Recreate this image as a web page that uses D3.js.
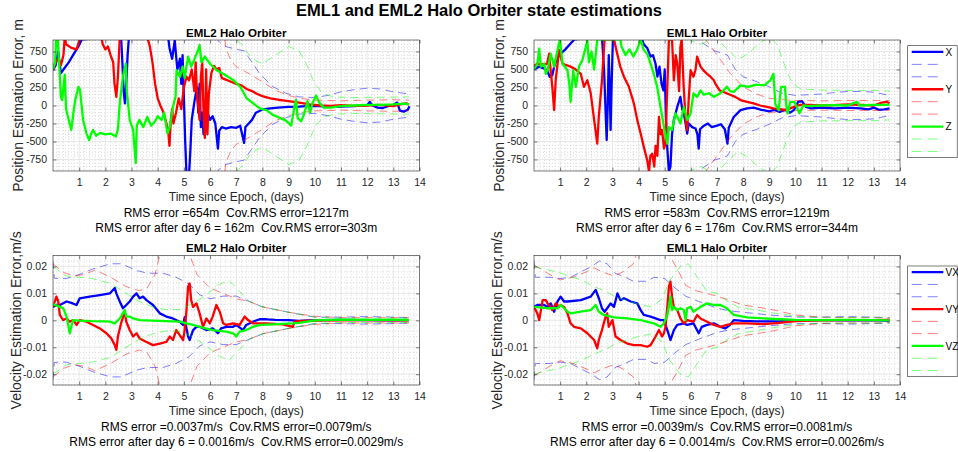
<!DOCTYPE html>
<html><head><meta charset="utf-8">
<script src="https://cdn.jsdelivr.net/npm/d3@7/dist/d3.min.js"></script>
<style>html,body{margin:0;padding:0;background:#fff;}svg{display:block;}</style>
</head><body>
<svg id="chart" width="958" height="452"></svg>
<script>
// ---------------- DATA ----------------
const mainTitle = "EML1 and EML2 Halo Orbiter state estimations";
const panelTitles = ["EML2 Halo Orbiter", "EML1 Halo Orbiter", "EML2 Halo Orbiter", "EML1 Halo Orbiter"];
const xTicks = [1,2,3,4,5,6,7,8,9,10,11,12,13,14];
const posTicks = [-750,-500,-250,0,250,500,750];
const velTicks = [-0.02,-0.01,0,0.01,0.02];
const posLegend = ["X","Y","Z"];
const velLegend = ["VX","VY","VZ"];
const xLabel = "Time since Epoch, (days)";
const posYLabel = "Position Estimation Error, m";
const velYLabel = "Velocity Estimation Error,m/s";
const rmsTexts = [
  ["RMS error =654m  Cov.RMS error=1217m", "RMS error after day 6 = 162m  Cov.RMS error=303m"],
  ["RMS error =583m  Cov.RMS error=1219m", "RMS error after day 6 = 176m  Cov.RMS error=344m"],
  ["RMS error =0.0037m/s  Cov.RMS error=0.0079m/s", "RMS error after day 6 = 0.0016m/s  Cov.RMS error=0.0029m/s"],
  ["RMS error =0.0039m/s  Cov.RMS error=0.0081m/s", "RMS error after day 6 = 0.0014m/s  Cov.RMS error=0.0026m/s"]
];

// EML2 position errors [day, m]
const eml2PosX = [[0,490],[0.1,560],[0.2,750],[0.3,450],[0.4,500],[0.6,600],[0.8,720],[1.0,840],[1.1,920],[2.6,950],[2.65,600],[2.7,200],[2.75,30],[2.8,300],[2.85,700],[2.9,950],[4.4,950],[4.45,800],[4.55,650],[4.65,900],[4.75,500],[4.85,650],[4.9,300],[4.95,700],[5.0,100],[5.05,-500],[5.1,-950],[5.2,-950],[5.25,-600],[5.3,-200],[5.4,50],[5.5,250],[5.55,-100],[5.6,300],[5.65,-300],[5.7,-100],[5.75,-400],[5.8,-150],[5.85,-350],[5.9,-100],[6.0,-200],[6.1,-150],[6.2,-250],[6.3,-600],[6.35,-350],[6.45,-300],[6.6,-320],[6.8,-300],[7.0,-310],[7.15,-280],[7.3,-520],[7.35,-300],[7.45,-260],[7.6,-200],[7.75,-100],[8.0,-55],[8.3,-40],[8.6,-30],[9.0,-20],[9.4,-15],[9.8,-5],[10.2,-10],[10.6,-20],[11.0,-15],[11.5,-10],[12.0,5],[12.1,50],[12.2,0],[12.4,-30],[12.6,-35],[12.8,-10],[13.0,10],[13.15,40],[13.25,-70],[13.4,-85],[13.55,-60],[13.62,-10]];
const eml2PosY = [[0,500],[0.1,600],[0.2,650],[0.3,560],[0.4,700],[0.45,950],[0.5,850],[0.7,800],[0.9,780],[1.0,900],[1.1,950],[1.85,950],[1.9,850],[2.0,780],[2.1,820],[2.2,700],[2.3,600],[2.35,300],[2.42,120],[2.48,400],[2.55,950],[3.6,950],[3.7,820],[3.8,600],[3.9,300],[4.0,100],[4.1,0],[4.2,-80],[4.3,-200],[4.4,-350],[4.45,-560],[4.5,-200],[4.55,-50],[4.6,-250],[4.7,-100],[4.8,100],[4.9,-50],[5.0,250],[5.1,400],[5.2,350],[5.3,500],[5.4,200],[5.45,600],[5.5,150],[5.6,-200],[5.65,400],[5.7,600],[5.75,-100],[5.8,-450],[5.85,500],[5.9,-400],[5.95,150],[6.05,450],[6.15,550],[6.25,500],[6.35,520],[6.45,380],[6.6,360],[6.8,330],[7.0,300],[7.2,280],[7.4,230],[7.6,200],[7.8,160],[8.0,130],[8.3,100],[8.6,80],[9.0,60],[9.4,40],[9.8,15],[10.2,0],[10.6,-5],[11.0,5],[11.5,-5],[12.0,0],[12.5,10],[13.0,-10],[13.3,20],[13.5,30],[13.6,10]];
const eml2PosZ = [[0,500],[0.08,600],[0.12,920],[0.18,920],[0.25,490],[0.3,120],[0.35,75],[0.45,430],[0.5,-50],[0.6,-200],[0.7,-340],[0.78,-100],[0.85,75],[0.97,260],[1.03,220],[1.15,-200],[1.28,-390],[1.38,-480],[1.45,-400],[1.53,-340],[1.65,-420],[1.8,-380],[2.0,-400],[2.2,-390],[2.4,-430],[2.48,-330],[2.55,30],[2.67,400],[2.78,580],[2.82,200],[2.93,-200],[3.06,-340],[3.16,-800],[3.2,-280],[3.3,-200],[3.45,-300],[3.6,-160],[3.75,-280],[3.9,-220],[4.0,-150],[4.15,-200],[4.25,-100],[4.37,-390],[4.46,-300],[4.58,-20],[4.68,120],[4.72,490],[4.85,400],[4.95,540],[5.03,380],[5.16,680],[5.28,540],[5.4,640],[5.54,770],[5.6,840],[5.67,600],[5.8,680],[6.0,580],[6.25,490],[6.5,440],[6.9,350],[7.15,260],[7.4,100],[7.65,30],[7.9,-40],[8.15,-65],[8.4,-130],[8.65,-170],[8.9,-210],[9.1,-280],[9.22,-20],[9.28,80],[9.35,-180],[9.48,-220],[9.6,-110],[9.72,60],[9.82,-100],[9.92,40],[10.05,140],[10.17,40],[10.35,-30],[10.6,-30],[11.0,-10],[11.5,0],[12.0,10],[12.5,10],[13.0,15],[13.4,25],[13.6,20]];
// EML2 position 3-sigma envelopes [day, m]
const eml2CovX = [[0,3000],[5.8,3000],[6.0,2000],[6.3,900],[6.6,820],[7.0,780],[7.3,760],[7.6,600],[7.9,440],[8.4,260],[8.9,170],[9.4,120],[10.0,110],[10.5,140],[11.0,190],[11.5,220],[12.0,240],[12.5,230],[13.0,190],[13.6,160]];
const eml2CovY = [[0,3000],[6.2,3000],[6.4,1500],[6.6,800],[6.8,620],[7.0,540],[7.5,440],[8.0,330],[8.5,210],[9.0,140],[9.5,95],[10.0,75],[11.0,65],[12.0,75],[13.0,80],[13.6,75]];
const eml2CovZ = [[0,3000],[6.6,3000],[6.9,950],[7.2,850],[7.6,650],[8.0,580],[8.5,700],[9.0,820],[9.4,760],[9.7,560],[10.0,300],[10.3,170],[10.7,120],[11.5,110],[12.5,115],[13.6,120]];

// EML1 position errors [day, m]
const eml1PosX = [[0,500],[0.1,520],[0.2,540],[0.35,520],[0.5,490],[0.6,400],[0.7,420],[0.77,540],[0.9,680],[1.02,720],[1.2,780],[1.4,860],[1.55,920],[2.6,950],[2.68,500],[2.75,-200],[2.78,-480],[2.82,0],[2.86,700],[2.9,200],[2.93,-340],[2.97,300],[3.02,950],[4.1,950],[4.2,850],[4.33,800],[4.46,680],[4.55,700],[4.65,580],[4.72,400],[4.8,540],[4.88,300],[4.95,210],[5.0,500],[5.05,-200],[5.1,-600],[5.16,-920],[5.22,-850],[5.28,-400],[5.35,-200],[5.48,-20],[5.6,120],[5.67,-50],[5.73,-110],[5.8,-250],[5.86,-390],[5.92,-250],[6.05,-300],[6.18,-320],[6.25,-400],[6.3,-600],[6.35,-330],[6.5,-280],[6.65,-250],[6.8,-300],[7.0,-280],[7.15,-260],[7.3,-330],[7.4,-530],[7.45,-310],[7.64,-160],[7.9,-65],[8.15,-40],[8.4,-30],[8.7,-60],[9.0,-80],[9.2,-60],[9.4,-90],[9.6,-60],[9.8,-100],[9.95,-60],[10.1,50],[10.25,60],[10.4,-20],[10.6,-40],[11.0,-30],[11.5,-40],[12.0,-30],[12.5,-40],[12.8,-55],[13.0,-30],[13.2,-60],[13.4,-55],[13.6,-40]];
const eml1PosY = [[0,550],[0.13,580],[0.3,570],[0.5,580],[0.58,720],[0.64,480],[0.7,260],[0.77,-65],[0.83,350],[0.96,770],[1.09,580],[1.4,540],[1.6,500],[1.79,440],[1.91,260],[2.04,350],[2.17,170],[2.3,-200],[2.42,-530],[2.48,-150],[2.6,350],[2.7,920],[3.06,920],[3.15,770],[3.3,540],[3.44,400],[3.63,260],[3.82,30],[3.95,-200],[4.08,-390],[4.2,-575],[4.33,-760],[4.4,-920],[4.45,-700],[4.52,-670],[4.6,-850],[4.65,-560],[4.72,-700],[4.78,-160],[4.84,-400],[4.9,-340],[4.97,-600],[5.03,-530],[5.1,260],[5.16,920],[5.28,920],[5.35,350],[5.42,700],[5.48,580],[5.55,200],[5.6,815],[5.65,920],[5.72,300],[5.8,-200],[5.86,-340],[5.92,100],[5.99,490],[6.1,400],[6.18,500],[6.24,680],[6.37,540],[6.5,480],[6.62,440],[6.75,400],[6.88,350],[6.94,300],[7.1,210],[7.3,180],[7.5,150],[7.7,120],[7.9,75],[8.15,50],[8.4,30],[8.65,0],[8.9,-20],[9.16,-40],[9.4,-50],[9.6,-60],[9.8,-40],[10.0,-10],[10.2,10],[10.5,10],[11.0,0],[11.5,5],[12.0,15],[12.5,10],[13.0,0],[13.3,40],[13.5,50],[13.6,30]];
const eml1PosZ = [[0,500],[0.13,580],[0.2,790],[0.26,540],[0.39,580],[0.45,440],[0.52,490],[0.64,720],[0.77,540],[0.9,770],[0.99,920],[1.09,580],[1.28,490],[1.35,300],[1.4,50],[1.5,490],[1.6,260],[1.72,540],[1.85,630],[1.95,770],[2.04,900],[2.1,600],[2.2,750],[2.3,500],[2.42,920],[3.3,920],[3.35,815],[3.5,700],[3.65,780],[3.8,680],[3.95,780],[4.08,920],[4.2,770],[4.33,720],[4.46,580],[4.58,440],[4.71,260],[4.84,-20],[4.97,-300],[5.1,-530],[5.16,-300],[5.28,-340],[5.41,-110],[5.54,-200],[5.6,-250],[5.73,-20],[5.86,-200],[5.99,-110],[6.1,170],[6.24,120],[6.37,210],[6.5,150],[6.7,170],[6.88,120],[7.13,170],[7.38,260],[7.5,200],[7.64,190],[7.9,280],[8.2,260],[8.5,290],[8.8,280],[9.04,350],[9.16,440],[9.23,20],[9.36,-65],[9.45,260],[9.6,260],[9.65,0],[9.7,-110],[9.8,50],[9.95,50],[10.03,0],[10.15,-110],[10.3,0],[10.5,-10],[11.0,0],[11.5,5],[12.0,0],[12.35,50],[12.45,0],[13.0,10],[13.6,10]];
// EML1 position 3-sigma envelopes [day, m]
const eml1CovX = [[0,3000],[5.9,3000],[6.1,950],[6.4,880],[6.9,760],[7.4,700],[7.7,500],[8.0,400],[8.6,320],[9.0,260],[9.5,170],[10.0,140],[10.5,150],[11.0,160],[11.5,180],[12.0,195],[12.5,195],[13.0,185],[13.6,140]];
const eml1CovY = [[0,3000],[6.3,3000],[6.6,900],[7.0,700],[7.5,450],[8.0,260],[8.5,160],[9.0,100],[9.5,80],[10.0,70],[11.0,65],[12.0,70],[13.0,70],[13.6,70]];
const eml1CovZ = [[0,3000],[5.8,3000],[6.0,900],[6.4,850],[6.9,950],[7.4,780],[7.8,640],[8.2,720],[8.6,860],[9.0,950],[9.3,850],[9.5,650],[9.7,450],[9.9,300],[10.2,230],[11.0,215],[12.0,210],[13.0,210],[13.6,200]];

// EML2 velocity errors [day, m/s]
const eml2VelX = [[0,0.005],[0.13,0.0057],[0.26,0.0057],[0.52,0.007],[0.7,0.0065],[0.9,0.0057],[1.02,0.0082],[1.4,0.0088],[1.79,0.0094],[2.17,0.01],[2.36,0.012],[2.42,0.01],[2.55,0.007],[2.67,0.0045],[2.8,0.0057],[2.93,0.007],[3.06,0.0088],[3.19,0.01],[3.31,0.0082],[3.44,0.0088],[3.57,0.0075],[3.82,0.0057],[4.08,0.0026],[4.33,0.0014],[4.58,0.0007],[4.84,-0.0005],[4.97,-0.0017],[5.03,0.0012],[5.1,-0.003],[5.16,-0.006],[5.22,-0.0073],[5.35,-0.0036],[5.48,-0.0024],[5.6,-0.0024],[5.86,-0.0036],[6.1,-0.003],[6.3,-0.0048],[6.42,-0.003],[6.62,-0.0024],[6.88,-0.0024],[7.0,-0.0017],[7.26,-0.0036],[7.38,-0.0017],[7.64,-0.0005],[7.9,0.0004],[8.15,0.0004],[8.5,0.0002],[9.0,0.0001],[9.4,-0.0002],[10,0.0001],[11,0.0002],[12,0.0001],[13,0],[13.6,0.0001]];
const eml2VelY = [[0,0.005],[0.13,0.0088],[0.2,0.007],[0.26,0.002],[0.39,0.0001],[0.52,0.0007],[0.64,-0.0005],[0.77,0.0001],[0.9,-0.0017],[1.02,0.0001],[1.28,-0.0005],[1.53,-0.0017],[1.79,-0.003],[2.04,-0.0048],[2.23,-0.0067],[2.36,-0.0092],[2.42,-0.011],[2.48,-0.006],[2.6,-0.0011],[2.74,0.0032],[2.8,-0.0005],[2.93,-0.0036],[3.06,-0.006],[3.19,-0.0048],[3.31,-0.0067],[3.57,-0.008],[3.82,-0.0092],[4.08,-0.0086],[4.33,-0.008],[4.46,-0.006],[4.58,-0.0073],[4.71,-0.0036],[4.84,-0.0055],[4.97,-0.0073],[5.03,-0.0036],[5.1,0.0038],[5.16,0.0125],[5.22,0.0137],[5.28,0.0075],[5.35,0.005],[5.48,0.0063],[5.6,0.0026],[5.73,-0.0024],[5.86,0.0007],[5.99,-0.0011],[6.1,0.0014],[6.24,0.0057],[6.37,0.0032],[6.5,-0.0011],[6.62,-0.0017],[6.88,-0.0011],[7.13,-0.0017],[7.32,0.0014],[7.45,0.0001],[7.64,-0.0011],[8.15,-0.0011],[8.78,-0.0015],[9.16,-0.0024],[9.23,-0.0005],[9.5,-0.0002],[10,-0.0001],[11,0],[12,0.0001],[13,0],[13.6,0]];
const eml2VelZ = [[0,0.006],[0.26,0.005],[0.39,0.0045],[0.52,0.0014],[0.64,-0.0048],[0.7,-0.0024],[0.77,0.0001],[1.02,-0.0001],[1.5,-0.0003],[2.0,-0.0004],[2.17,-0.0005],[2.36,-0.0011],[2.55,0.0007],[2.74,0.0038],[2.8,0.0014],[2.93,0.0014],[3.06,0.0007],[3.31,0.0001],[3.8,-0.0001],[4.3,-0.0003],[4.84,-0.0005],[5.1,-0.0011],[5.35,-0.0017],[5.6,-0.0024],[6.1,-0.0036],[6.62,-0.0042],[6.88,-0.0048],[7.0,-0.006],[7.13,-0.0042],[7.38,-0.0036],[7.64,-0.0024],[7.9,-0.0017],[8.4,-0.0015],[8.9,-0.0012],[9.16,-0.0011],[9.4,-0.0009],[10,0],[11,0.0003],[12,0.0002],[13,0.0003],[13.6,0.0002]];
const eml2CovVX = [[0,0.022],[0.05,0.0156],[0.5,0.0155],[1.0,0.017],[1.5,0.019],[2.2,0.021],[2.6,0.021],[3.2,0.0185],[3.6,0.0175],[4.2,0.0175],[4.7,0.016],[5.2,0.0135],[5.6,0.0095],[6.0,0.008],[6.5,0.009],[7.0,0.009],[7.5,0.007],[8.0,0.005],[9.0,0.003],[10,0.0012],[11,0.0012],[12,0.0014],[13,0.0012],[13.6,0.001]];
const eml2CovVY = [[0,0.021],[0.4,0.0178],[0.8,0.0165],[1.2,0.017],[1.6,0.0187],[2.2,0.016],[2.8,0.0125],[3.3,0.011],[3.6,0.012],[3.9,0.017],[4.1,0.025],[4.3,0.035],[5.0,0.035],[5.2,0.025],[5.5,0.017],[6.0,0.012],[6.5,0.01],[7.0,0.008],[7.5,0.007],[8.0,0.005],[9.0,0.003],[10,0.0015],[11,0.001],[12,0.001],[13,0.001],[13.6,0.001]];
const eml2CovVZ = [[0,0.02],[0.5,0.0165],[1.0,0.016],[1.5,0.0155],[2.2,0.0137],[2.8,0.01],[3.3,0.007],[3.8,0.005],[4.3,0.004],[4.8,0.004],[5.3,0.006],[5.8,0.009],[6.3,0.013],[6.7,0.015],[7.1,0.011],[7.5,0.007],[8.0,0.005],[9.0,0.003],[10,0.0012],[11,0.0008],[12,0.0008],[13,0.0008],[13.6,0.0008]];

// EML1 velocity errors [day, m/s]
const eml1VelX = [[0,0.005],[0.13,0.0057],[0.39,0.0057],[0.52,0.005],[0.64,0.0063],[0.77,0.0032],[0.9,0.007],[1.02,0.0088],[1.15,0.007],[1.28,0.007],[1.79,0.0075],[2.17,0.0088],[2.36,0.0113],[2.48,0.0082],[2.6,0.0045],[2.7,0.0032],[2.8,0.0045],[2.93,0.0063],[3.06,0.005],[3.19,0.01],[3.31,0.0075],[3.44,0.0082],[3.7,0.007],[3.95,0.0063],[4.08,0.0038],[4.2,0.002],[4.46,0.0014],[4.84,0.0001],[4.97,0.0001],[5.1,-0.0036],[5.22,-0.0073],[5.35,-0.0036],[5.48,-0.0017],[5.73,-0.0011],[5.86,-0.0017],[6.1,-0.0011],[6.3,-0.0048],[6.42,-0.0024],[6.62,-0.0017],[6.88,-0.0011],[7.13,-0.0024],[7.32,-0.003],[7.5,-0.0017],[7.64,0.0001],[8.0,-0.0002],[8.5,-0.0004],[9.0,-0.0004],[9.4,-0.0003],[10,0],[11,0.0001],[12,0],[13,0.0001],[13.6,-0.0002]];
const eml1VelY = [[0,0.005],[0.13,0.0025],[0.2,0.0001],[0.33,0.0075],[0.45,0.0075],[0.52,0.0063],[0.7,0.0038],[0.83,0.0063],[0.96,0.005],[1.02,0.0057],[1.15,0.005],[1.28,0.0026],[1.4,-0.0011],[1.53,-0.0024],[1.79,-0.003],[2.04,-0.0048],[2.3,-0.0073],[2.42,-0.0104],[2.48,-0.0073],[2.6,-0.0036],[2.74,0.0014],[2.8,0.0026],[2.86,-0.0024],[3.0,0.0001],[3.12,-0.006],[3.31,-0.0073],[3.57,-0.0086],[3.82,-0.0092],[4.08,-0.0092],[4.33,-0.0098],[4.46,-0.0092],[4.65,-0.006],[4.78,-0.0036],[4.9,-0.006],[4.97,-0.0048],[5.03,-0.0024],[5.1,0.005],[5.16,0.0125],[5.22,0.0144],[5.28,0.0088],[5.35,0.005],[5.48,0.0038],[5.6,0.0007],[5.73,-0.0011],[5.86,0.0001],[6.1,-0.0005],[6.24,0.002],[6.37,0.0007],[6.62,-0.0005],[6.88,-0.0017],[7.13,-0.0024],[7.38,-0.0017],[7.64,-0.0011],[8.15,-0.0011],[8.78,-0.0014],[9.4,-0.0009],[10,-0.0003],[11,0],[12,0.0001],[13,0.0001],[13.6,0.0002]];
const eml1VelZ = [[0,0.005],[0.5,0.0045],[0.9,0.0045],[1.02,0.0057],[1.15,0.0045],[1.28,0.0032],[1.4,0.0026],[1.79,0.0032],[2.17,0.0038],[2.36,0.0057],[2.48,0.0032],[2.67,0.002],[3.06,0.0011],[3.57,0.0007],[4.08,0.0001],[4.58,-0.0011],[4.84,-0.0024],[4.97,-0.0011],[5.1,0.002],[5.22,0.0088],[5.28,0.0038],[5.35,0.005],[5.48,0.0038],[5.6,0.0045],[5.73,0.0038],[5.8,0.0001],[5.86,0.0045],[5.99,0.005],[6.1,0.0032],[6.37,0.005],[6.62,0.0063],[6.88,0.0057],[7.13,0.0057],[7.38,0.0045],[7.64,0.002],[8.15,0.0011],[8.78,0.0007],[9.4,0.0004],[10,0.0002],[11,0.0001],[12,0.0002],[13,0.0001],[13.6,0]];
const eml1CovVX = [[0,0.022],[0.05,0.016],[0.6,0.016],[1.0,0.0155],[1.4,0.016],[1.8,0.018],[2.2,0.02],[2.5,0.022],[2.8,0.021],[3.1,0.0175],[3.5,0.016],[3.8,0.0145],[4.3,0.0145],[4.6,0.016],[5.0,0.0155],[5.4,0.012],[5.8,0.009],[6.3,0.007],[7.0,0.0045],[7.5,0.0035],[8.0,0.003],[9.0,0.002],[10,0.0012],[11,0.0012],[12,0.0014],[13,0.0012],[13.6,0.001]];
const eml1CovVY = [[0,0.0205],[0.33,0.0187],[0.6,0.017],[1.0,0.015],[1.5,0.016],[2.0,0.018],[2.3,0.0195],[2.6,0.018],[3.06,0.0165],[3.4,0.018],[3.8,0.021],[4.1,0.03],[5.0,0.03],[5.25,0.023],[5.5,0.0187],[5.8,0.013],[6.2,0.011],[6.6,0.01],[7.0,0.009],[7.6,0.007],[8.0,0.0057],[8.8,0.0045],[9.2,0.0038],[10,0.002],[11,0.0012],[12,0.001],[13,0.001],[13.6,0.0008]];
const eml1CovVZ = [[0,0.02],[0.4,0.019],[0.9,0.018],[1.3,0.0165],[1.8,0.015],[2.3,0.0125],[2.8,0.0105],[3.1,0.0088],[3.5,0.0075],[4.0,0.006],[4.5,0.005],[4.9,0.008],[5.2,0.015],[5.6,0.02],[5.9,0.021],[6.25,0.016],[6.6,0.011],[7.0,0.01],[7.4,0.007],[7.8,0.005],[8.5,0.0038],[9.0,0.003],[10,0.0015],[11,0.001],[12,0.001],[13,0.001],[13.6,0.001]];

// ---------------- DRAW ----------------
const FONT = "'Liberation Sans', Arial, Helvetica, sans-serif";
const AX = "#262626";
const COLORS = ["#0000ff", "#ff0000", "#00ff00"];
const svg = d3.select("#chart");

svg.append("text").attr("x", 479).attr("y", 15.5).attr("text-anchor", "middle")
  .attr("font-family", FONT).attr("font-weight", "bold").attr("font-size", 16.5).attr("fill", "#000")
  .text(mainTitle);

const panels = [
  {x0: 53, x1: 419.5, y0: 40, y1: 171, dom: [-910, 910], ticks: posTicks, minor: 50, fmt: d => String(d),
   solids: [eml2PosX, eml2PosY, eml2PosZ], covs: [eml2CovX, eml2CovY, eml2CovZ], ylab: posYLabel, ylx: 23, title: panelTitles[0], rms: rmsTexts[0], legend: null},
  {x0: 534, x1: 900, y0: 40, y1: 171, dom: [-910, 910], ticks: posTicks, minor: 50, fmt: d => String(d),
   solids: [eml1PosX, eml1PosY, eml1PosZ], covs: [eml1CovX, eml1CovY, eml1CovZ], ylab: posYLabel, ylx: 503.5, title: panelTitles[1], rms: rmsTexts[1], legend: {labels: posLegend, top: 45.7, bottom: 157.7}},
  {x0: 53, x1: 419.5, y0: 255.7, y1: 385, dom: [-0.024, 0.024], ticks: velTicks, minor: 0.002, fmt: d => d === 0 ? "0" : String(d),
   solids: [eml2VelX, eml2VelY, eml2VelZ], covs: [eml2CovVX, eml2CovVY, eml2CovVZ], ylab: velYLabel, ylx: 20.5, title: panelTitles[2], rms: rmsTexts[2], legend: null},
  {x0: 534, x1: 900, y0: 255.7, y1: 385, dom: [-0.024, 0.024], ticks: velTicks, minor: 0.002, fmt: d => d === 0 ? "0" : String(d),
   solids: [eml1VelX, eml1VelY, eml1VelZ], covs: [eml1CovVX, eml1CovVY, eml1CovVZ], ylab: velYLabel, ylx: 501.5, title: panelTitles[3], rms: rmsTexts[3], legend: {labels: velLegend, top: 266, bottom: 376.7}}
];

panels.forEach((p, pi) => {
  const x = d3.scaleLinear().domain([0, 14]).range([p.x0, p.x1]);
  const y = d3.scaleLinear().domain(p.dom).range([p.y1, p.y0]);
  const g = svg.append("g");
  const clipId = "clip" + pi;
  svg.append("clipPath").attr("id", clipId).append("rect")
    .attr("x", p.x0).attr("y", p.y0).attr("width", p.x1 - p.x0).attr("height", p.y1 - p.y0);

  // minor grid
  const minorX = d3.range(0, 14.0001, 0.2).filter(v => Math.abs(v - Math.round(v)) > 1e-6);
  const nMin = Math.ceil(p.dom[0] / p.minor), nMax = Math.floor(p.dom[1] / p.minor);
  const minorY = d3.range(nMin, nMax + 1).map(k => k * p.minor)
    .filter(v => !p.ticks.some(t => Math.abs(t - v) < p.minor * 0.01));
  const gm = g.append("g").attr("stroke", "#c4c4c4").attr("stroke-width", 0.6).attr("stroke-dasharray", "1,2");
  gm.selectAll("line.mx").data(minorX).join("line")
    .attr("x1", d => x(d)).attr("x2", d => x(d)).attr("y1", p.y0).attr("y2", p.y1);
  gm.selectAll("line.my").data(minorY).join("line")
    .attr("x1", p.x0).attr("x2", p.x1).attr("y1", d => y(d)).attr("y2", d => y(d));
  // major grid
  const gg = g.append("g").attr("stroke", "#dedede").attr("stroke-width", 0.7);
  gg.selectAll("line.gx").data(xTicks.filter(t => t < 14)).join("line")
    .attr("x1", d => x(d)).attr("x2", d => x(d)).attr("y1", p.y0).attr("y2", p.y1);
  gg.selectAll("line.gy").data(p.ticks).join("line")
    .attr("x1", p.x0).attr("x2", p.x1).attr("y1", d => y(d)).attr("y2", d => y(d));

  // data
  const line = d3.line().x(d => x(d[0])).y(d => y(d[1]));
  const dl = g.append("g").attr("clip-path", `url(#${clipId})`).attr("fill", "none");
  [0, 1, 2].forEach(i => {
    dl.append("path").attr("d", line(p.solids[i])).attr("stroke", COLORS[i])
      .attr("stroke-width", 2.3).attr("stroke-linejoin", "round");
    [1, -1].forEach(s => {
      dl.append("path").attr("d", line(p.covs[i].map(d => [d[0], s * d[1]])))
        .attr("stroke", COLORS[i]).attr("stroke-opacity", 0.5).attr("stroke-width", 1)
        .attr("stroke-dasharray", "8,5");
    });
  });

  // axes
  const xAxB = d3.axisBottom(x).tickValues(xTicks).tickSize(-3.5).tickPadding(8).tickFormat(d3.format("d"));
  const xAxT = d3.axisTop(x).tickValues(xTicks).tickSize(-3.5).tickFormat("");
  const yAxL = d3.axisLeft(y).tickValues(p.ticks).tickSize(-3.5).tickPadding(6).tickFormat(p.fmt);
  const yAxR = d3.axisRight(y).tickValues(p.ticks).tickSize(-3.5).tickFormat("");
  const styleAx = sel => {
    sel.select(".domain").remove();
    sel.selectAll(".tick line").attr("stroke", AX).attr("stroke-width", 0.6);
    sel.selectAll(".tick text").attr("fill", AX).attr("font-family", FONT).attr("font-size", 10.5);
  };
  g.append("g").attr("transform", `translate(0,${p.y1})`).call(xAxB).call(styleAx);
  g.append("g").attr("transform", `translate(0,${p.y0})`).call(xAxT).call(styleAx);
  g.append("g").attr("transform", `translate(${p.x0},0)`).call(yAxL).call(styleAx);
  g.append("g").attr("transform", `translate(${p.x1},0)`).call(yAxR).call(styleAx);
  g.append("rect").attr("x", p.x0).attr("y", p.y0).attr("width", p.x1 - p.x0).attr("height", p.y1 - p.y0)
    .attr("fill", "none").attr("stroke", AX).attr("stroke-width", 0.6);

  const cx = (p.x0 + p.x1) / 2;
  g.append("text").attr("x", cx).attr("y", p.y0 - 3.5).attr("text-anchor", "middle")
    .attr("font-family", FONT).attr("font-weight", "bold").attr("font-size", 11.5).attr("fill", "#000").text(p.title);
  g.append("text").attr("x", cx).attr("y", p.y1 + 30).attr("text-anchor", "middle")
    .attr("font-family", FONT).attr("font-size", 12).attr("fill", AX).text(xLabel);
  p.rms.forEach((t, k) => {
    g.append("text").attr("x", cx).attr("y", p.y1 + 45.5 + 15 * k).attr("text-anchor", "middle")
      .attr("font-family", FONT).attr("font-size", 12).attr("fill", "#000")
      .style("white-space", "pre").text(t);
  });
  g.append("text").attr("transform", `translate(${p.ylx},${(p.y0 + p.y1) / 2}) rotate(-90)`)
    .attr("text-anchor", "middle").attr("font-family", FONT).attr("font-size", 14).attr("fill", AX).text(p.ylab);

  if (p.legend) {
    const L = p.legend;
    const lg = svg.append("g");
    lg.append("rect").attr("x", 907.7).attr("y", L.top).attr("width", 49.5).attr("height", L.bottom - L.top)
      .attr("fill", "#fff").attr("stroke", AX).attr("stroke-width", 0.6);
    const step = (L.bottom - L.top) / 9;
    const entries = [];
    [0, 1, 2].forEach(i => {
      entries.push({c: COLORS[i], dashed: false, label: L.labels[i]});
      entries.push({c: COLORS[i], dashed: true, label: ""});
      entries.push({c: COLORS[i], dashed: true, label: ""});
    });
    entries.forEach((e, k) => {
      const yy = L.top + step * (k + 0.5);
      const ln = lg.append("line").attr("x1", 911.7).attr("x2", 943.3).attr("y1", yy).attr("y2", yy)
        .attr("stroke", e.c);
      if (e.dashed) ln.attr("stroke-width", 1).attr("stroke-opacity", 0.5).attr("stroke-dasharray", "10,6");
      else ln.attr("stroke-width", 2.3);
      if (e.label) lg.append("text").attr("x", 945.5).attr("y", yy + 3.6)
        .attr("font-family", FONT).attr("font-size", 10).attr("fill", "#000").text(e.label);
    });
  }
});
</script>
</body></html>
